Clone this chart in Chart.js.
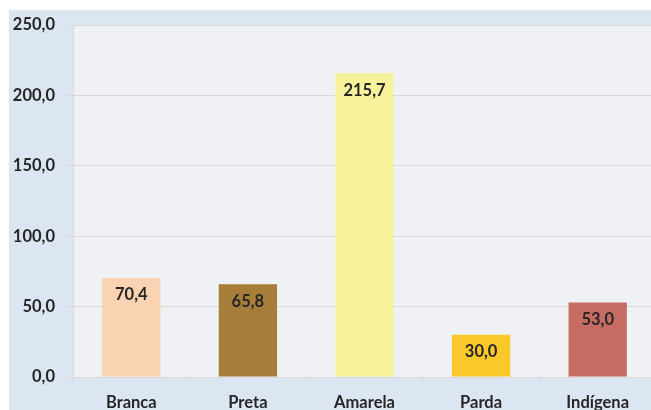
<!DOCTYPE html>
<html>
<head>
<meta charset="utf-8">
<script src="https://cdn.jsdelivr.net/npm/chart.js@4.4.1/dist/chart.umd.min.js"></script>
<style>
  html, body { margin: 0; padding: 0; background: #ffffff; }
  #wrap { width: 651px; height: 410px; overflow: hidden; position: relative; }
  #chart { position: absolute; left: 0; top: 0; }
</style>
</head>
<body>
<div id="wrap"><canvas id="chart" width="656" height="410"></canvas></div>
<script>
const categories = ['Branca', 'Preta', 'Amarela', 'Parda', 'Indígena'];
const values = [70.4, 65.8, 215.7, 30.0, 53.0];
const barColors = ['#fad3b3', '#a67e39', '#f6f19a', '#f9c92c', '#c76c63'];
const yTicks = [0, 50, 100, 150, 200, 250];

const fmt = v => v.toFixed(1).replace('.', ',');

// blue frame + grey plot area behind the chart
const backgrounds = {
  id: 'backgrounds',
  beforeDraw(chart) {
    const { ctx, chartArea: a } = chart;
    ctx.save();
    ctx.fillStyle = '#dce6f2';
    ctx.fillRect(9, 10, chart.width, chart.height);
    ctx.fillStyle = '#f0f1f4';
    ctx.fillRect(a.left, a.top, a.right - a.left, a.bottom - a.top);
    ctx.restore();
  }
};

// value labels just inside the top of each bar
const barLabels = {
  id: 'barLabels',
  afterDatasetsDraw(chart) {
    const { ctx } = chart;
    const meta = chart.getDatasetMeta(0);
    ctx.save();
    ctx.font = 'bold 16.5px Lato';
    ctx.fillStyle = '#262626';
    ctx.textAlign = 'center';
    ctx.textBaseline = 'middle';
    meta.data.forEach((bar, i) => {
      ctx.fillText(fmt(values[i]), bar.x, bar.y + 17);
    });
    ctx.restore();
  }
};

new Chart(document.getElementById('chart'), {
  type: 'bar',
  data: {
    labels: categories,
    datasets: [{
      data: values,
      backgroundColor: barColors,
      barPercentage: 0.5,
      categoryPercentage: 1.0
    }]
  },
  options: {
    responsive: false,
    animation: false,
    layout: { padding: { top: 25, right: 0, left: 0, bottom: 0 } },
    plugins: {
      legend: { display: false },
      tooltip: { enabled: false }
    },
    scales: {
      x: {
        afterFit: s => { s.height = 33; },
        grid: { drawOnChartArea: false, offset: true, tickLength: 6, color: '#d9d9d9' },
        border: { color: '#d9d9d9' },
        ticks: { color: '#262626', font: { family: 'Lato', size: 16.5, weight: 'bold' }, padding: 10 }
      },
      y: {
        min: 0,
        max: 250,
        afterFit: s => { s.width = 73; },
        afterBuildTicks: s => { s.ticks = yTicks.map(v => ({ value: v })); },
        grid: { color: '#d9d9d9', tickLength: 6 },
        border: { color: '#d9d9d9' },
        ticks: {
          color: '#262626',
          font: { family: 'Lato', size: 16.5, weight: 'bold' },
          padding: 12,
          callback: v => fmt(v)
        }
      }
    }
  },
  plugins: [backgrounds, barLabels]
});
</script>
</body>
</html>
